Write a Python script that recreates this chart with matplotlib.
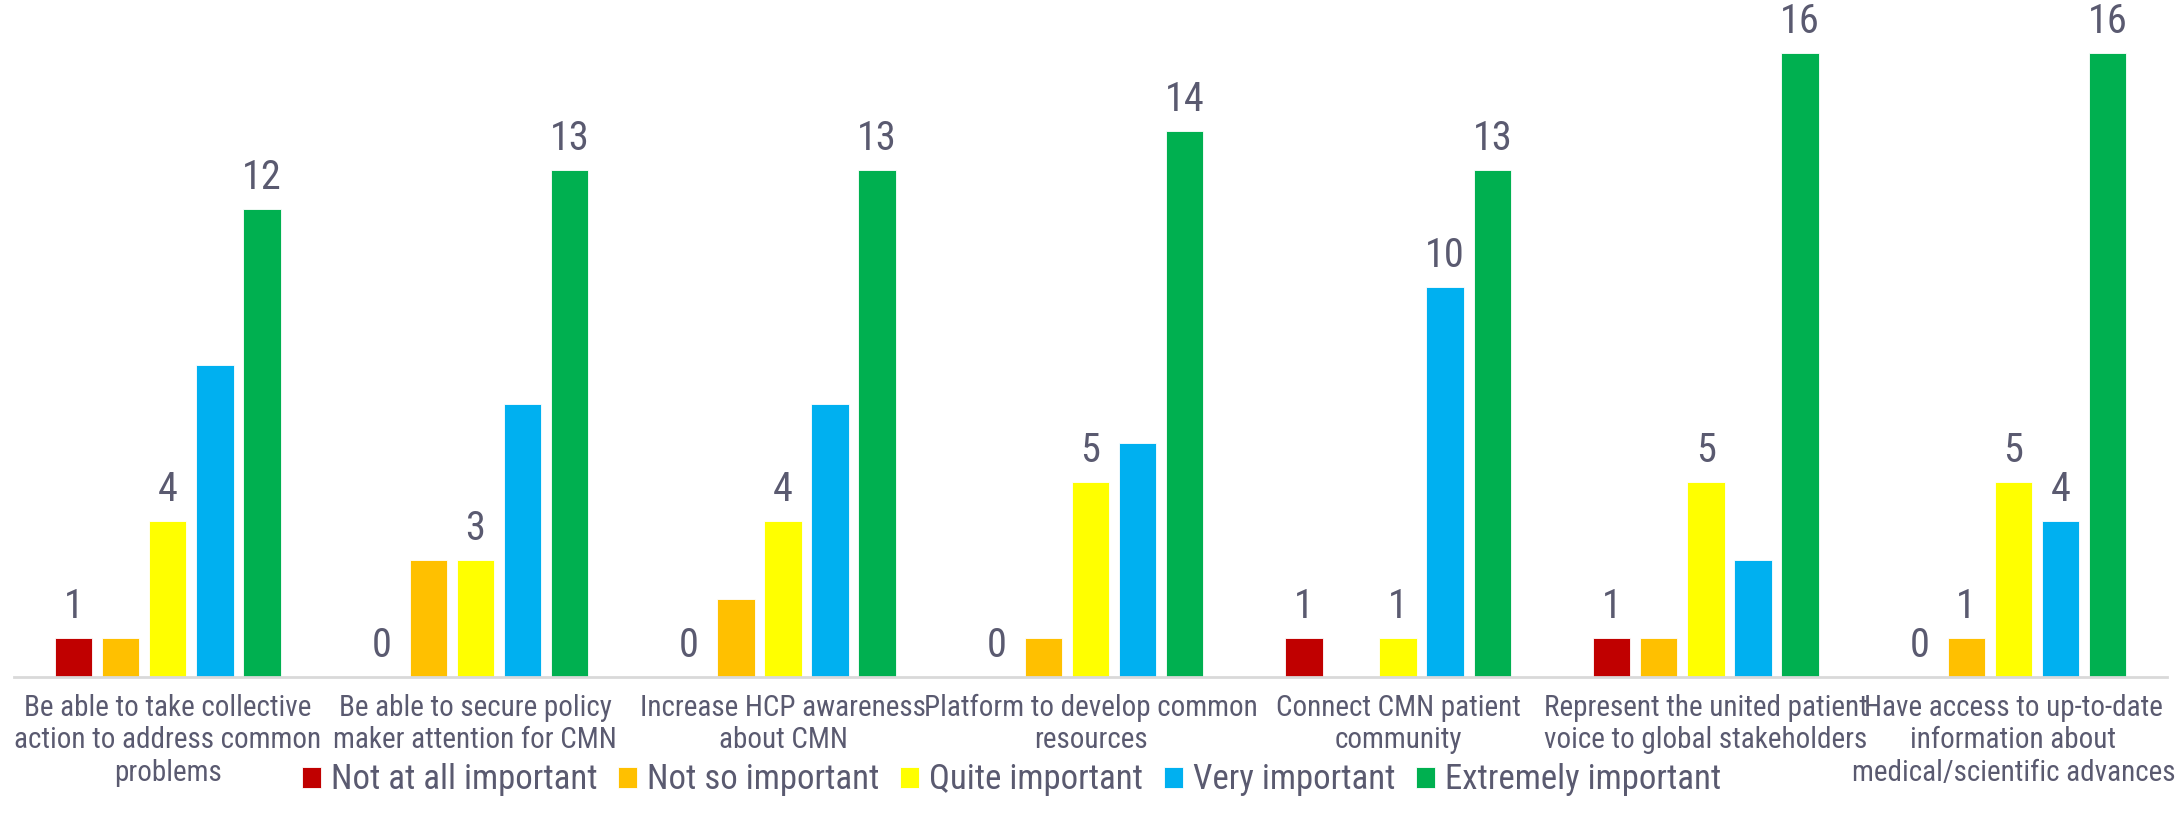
import matplotlib
matplotlib.use('Agg')
import matplotlib.pyplot as plt
import numpy as np

categories = [
    "Be able to take collective\naction to address common\nproblems",
    "Be able to secure policy\nmaker attention for CMN",
    "Increase HCP awareness\nabout CMN",
    "Platform to develop common\nresources",
    "Connect CMN patient\ncommunity",
    "Represent the united patient\nvoice to global stakeholders",
    "Have access to up-to-date\ninformation about\nmedical/scientific advances",
]
series_names = ["Not at all important", "Not so important", "Quite important",
                "Very important", "Extremely important"]
not_at_all = [1, 0, 0, 0, 1, 1, 0]
not_so = [1, 3, 2, 1, 0, 1, 1]
quite = [4, 3, 4, 5, 1, 5, 5]
very = [8, 7, 7, 6, 10, 3, 4]
extremely = [12, 13, 13, 14, 13, 16, 16]

# which bars carry a value label (one row per series)
show_label = [
    [1, 1, 1, 1, 1, 1, 1],
    [0, 0, 0, 0, 0, 0, 1],
    [1, 1, 1, 1, 1, 1, 1],
    [0, 0, 0, 0, 1, 0, 1],
    [1, 1, 1, 1, 1, 1, 1],
]

colors = ["#C00000", "#FFC000", "#FFFF00", "#00B0F0", "#00B050"]
text_color = "#5A5A70"
plt.rcParams['font.family'] = ['Roboto Condensed', 'Archivo Narrow', 'DejaVu Sans']

values = [not_at_all, not_so, quite, very, extremely]
x = np.arange(len(categories))
width = 0.122
step = 0.153

fig = plt.figure(figsize=(21.75, 8.35), dpi=100)
ax = fig.add_axes([0.0064, 0.189, 0.99, 0.794])

for i, (name, vals, col) in enumerate(zip(series_names, values, colors)):
    pos = x + (i - 2) * step
    ax.bar(pos, vals, width, color=col, label=name, edgecolor='white', linewidth=0.6)
    for p, v, s in zip(pos, vals, show_label[i]):
        if s:
            ax.annotate(str(v), (p, v), xytext=(0, 9), textcoords='offset points',
                        ha='center', va='bottom', fontsize=29, color=text_color)

ax.set_xlim(-0.5, len(categories) - 0.5)
ax.set_ylim(0, 17)
ax.set_yticks([])
ax.set_xticks(x)
ax.set_xticklabels(categories, fontsize=21, color=text_color, linespacing=1.2)
ax.tick_params(axis='x', length=0, pad=12)
for side in ['top', 'left', 'right']:
    ax.spines[side].set_visible(False)
ax.spines['bottom'].set_color('#D9D9D9')
ax.spines['bottom'].set_linewidth(2)

leg = fig.legend(loc='center', bbox_to_anchor=(0.465, 0.066), ncol=5, frameon=False,
                 fontsize=25, handlelength=0.55, handleheight=0.55, handletextpad=0.28,
                 columnspacing=0.6)
for t in leg.get_texts():
    t.set_color(text_color)

plt.savefig('out.png', dpi=100)
